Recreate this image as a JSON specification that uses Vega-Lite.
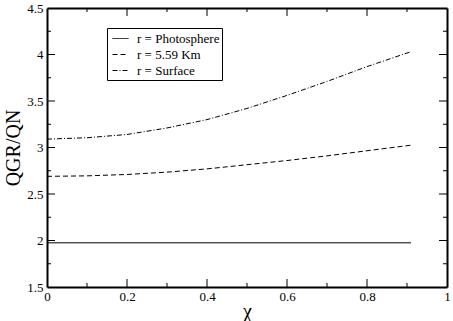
{
  "$schema": "https://vega.github.io/schema/vega-lite/v6.json",
  "width": 400,
  "height": 279,
  "autosize": "none",
  "padding": {"left": 47, "top": 8, "right": 6, "bottom": 34},
  "background": "white",
  "config": {
    "font": "Liberation Serif",
    "view": {"stroke": null},
    "rule": {"color": "black", "strokeWidth": 1},
    "axis": {
      "grid": false,
      "domainColor": "black",
      "domainWidth": 2,
      "labelColor": "black",
      "labelFont": "Liberation Serif",
      "labelFontSize": 13,
      "labelFlush": false,
      "labelOverlap": false,
      "titleFont": "Liberation Serif",
      "titleFontWeight": "normal",
      "titleColor": "black",
      "titleFontSize": 20
    }
  },
  "datasets": {
    "ticks": [
      {"side": "x", "kind": "major", "v": 0.2},
      {"side": "x", "kind": "major", "v": 0.4},
      {"side": "x", "kind": "major", "v": 0.6},
      {"side": "x", "kind": "major", "v": 0.8},
      {"side": "x", "kind": "minor", "v": 0.1},
      {"side": "x", "kind": "minor", "v": 0.3},
      {"side": "x", "kind": "minor", "v": 0.5},
      {"side": "x", "kind": "minor", "v": 0.7},
      {"side": "x", "kind": "minor", "v": 0.9},
      {"side": "y", "kind": "major", "v": 2},
      {"side": "y", "kind": "major", "v": 2.5},
      {"side": "y", "kind": "major", "v": 3},
      {"side": "y", "kind": "major", "v": 3.5},
      {"side": "y", "kind": "major", "v": 4},
      {"side": "y", "kind": "minor", "v": 1.75},
      {"side": "y", "kind": "minor", "v": 2.25},
      {"side": "y", "kind": "minor", "v": 2.75},
      {"side": "y", "kind": "minor", "v": 3.25},
      {"side": "y", "kind": "minor", "v": 3.75},
      {"side": "y", "kind": "minor", "v": 4.25}
    ]
  },
  "data": {
    "values": [
      {"series": "r = Photosphere", "chi": 0.0, "q": 1.975},
      {"series": "r = Photosphere", "chi": 0.3, "q": 1.975},
      {"series": "r = Photosphere", "chi": 0.6, "q": 1.975},
      {"series": "r = Photosphere", "chi": 0.91, "q": 1.975},
      {"series": "r = 5.59 Km", "chi": 0.0, "q": 2.69},
      {"series": "r = 5.59 Km", "chi": 0.1, "q": 2.695},
      {"series": "r = 5.59 Km", "chi": 0.2, "q": 2.71},
      {"series": "r = 5.59 Km", "chi": 0.3, "q": 2.735},
      {"series": "r = 5.59 Km", "chi": 0.4, "q": 2.77},
      {"series": "r = 5.59 Km", "chi": 0.5, "q": 2.815},
      {"series": "r = 5.59 Km", "chi": 0.6, "q": 2.86},
      {"series": "r = 5.59 Km", "chi": 0.7, "q": 2.91},
      {"series": "r = 5.59 Km", "chi": 0.8, "q": 2.965},
      {"series": "r = 5.59 Km", "chi": 0.91, "q": 3.025},
      {"series": "r = Surface", "chi": 0.0, "q": 3.09},
      {"series": "r = Surface", "chi": 0.1, "q": 3.105},
      {"series": "r = Surface", "chi": 0.2, "q": 3.14},
      {"series": "r = Surface", "chi": 0.3, "q": 3.21},
      {"series": "r = Surface", "chi": 0.4, "q": 3.3},
      {"series": "r = Surface", "chi": 0.5, "q": 3.42},
      {"series": "r = Surface", "chi": 0.6, "q": 3.56},
      {"series": "r = Surface", "chi": 0.7, "q": 3.71},
      {"series": "r = Surface", "chi": 0.8, "q": 3.87},
      {"series": "r = Surface", "chi": 0.91, "q": 4.03}
    ]
  },
  "layer": [
    {
      "mark": {"type": "line", "color": "black", "strokeWidth": 1},
      "encoding": {
        "x": {
          "field": "chi", "type": "quantitative",
          "scale": {"domain": [0, 1], "nice": false, "zero": false},
          "axis": {
            "orient": "bottom",
            "values": [0, 0.2, 0.4, 0.6, 0.8, 1],
            "format": "",
            "ticks": false,
            "tickSize": 0,
            "labelPadding": 3,
            "title": "χ",
            "titlePadding": -2
          }
        },
        "y": {
          "field": "q", "type": "quantitative",
          "scale": {"domain": [1.5, 4.5], "nice": false, "zero": false},
          "axis": {
            "orient": "left",
            "values": [1.5, 2, 2.5, 3, 3.5, 4, 4.5],
            "format": "",
            "ticks": false,
            "tickSize": 0,
            "labelPadding": 4,
            "title": "QGR/QN",
            "titlePadding": 3
          }
        },
        "strokeDash": {
          "field": "series", "type": "nominal",
          "scale": {
            "domain": ["r = Photosphere", "r = 5.59 Km", "r = Surface"],
            "range": [[1, 0], [5, 3], [5, 2, 1, 2]]
          },
          "legend": {
            "orient": "none",
            "legendX": 60,
            "legendY": 20,
            "title": null,
            "strokeColor": "black",
            "fillColor": "white",
            "padding": 2,
            "symbolType": "stroke",
            "symbolSize": 256,
            "symbolOffset": 3,
            "labelOffset": 8,
            "symbolStrokeWidth": 1,
            "symbolStrokeColor": "black",
            "labelFont": "Liberation Serif",
            "labelFontSize": 13,
            "labelColor": "black",
            "rowPadding": 0
          }
        }
      }
    },
    {
      "mark": {"type": "point", "opacity": 0},
      "encoding": {
        "x": {"field": "chi", "type": "quantitative", "axis": {"orient": "top", "values": [0, 1], "labels": false, "title": null, "ticks": false, "tickSize": 0}},
        "y": {"field": "q", "type": "quantitative", "axis": {"orient": "right", "values": [1.5, 4.5], "labels": false, "title": null, "ticks": false, "tickSize": 0}}
      }
    },
    {
      "data": {"name": "ticks"},
      "transform": [{"filter": "datum.side == 'x' && datum.kind == 'major'"}],
      "mark": "rule",
      "encoding": {
        "x": {"field": "v", "type": "quantitative", "axis": null},
        "y": {"datum": 1.5, "type": "quantitative", "axis": null},
        "y2": {"datum": 1.586}
      }
    },
    {
      "data": {"name": "ticks"},
      "transform": [{"filter": "datum.side == 'x' && datum.kind == 'minor'"}],
      "mark": "rule",
      "encoding": {
        "x": {"field": "v", "type": "quantitative", "axis": null},
        "y": {"datum": 1.5, "type": "quantitative", "axis": null},
        "y2": {"datum": 1.543}
      }
    },
    {
      "data": {"name": "ticks"},
      "transform": [{"filter": "datum.side == 'x' && datum.kind == 'major'"}],
      "mark": "rule",
      "encoding": {
        "x": {"field": "v", "type": "quantitative", "axis": null},
        "y": {"datum": 4.5, "type": "quantitative", "axis": null},
        "y2": {"datum": 4.414}
      }
    },
    {
      "data": {"name": "ticks"},
      "transform": [{"filter": "datum.side == 'x' && datum.kind == 'minor'"}],
      "mark": "rule",
      "encoding": {
        "x": {"field": "v", "type": "quantitative", "axis": null},
        "y": {"datum": 4.5, "type": "quantitative", "axis": null},
        "y2": {"datum": 4.457}
      }
    },
    {
      "data": {"name": "ticks"},
      "transform": [{"filter": "datum.side == 'y' && datum.kind == 'major'"}],
      "mark": "rule",
      "encoding": {
        "y": {"field": "v", "type": "quantitative", "axis": null},
        "x": {"datum": 0, "type": "quantitative", "axis": null},
        "x2": {"datum": 0.02}
      }
    },
    {
      "data": {"name": "ticks"},
      "transform": [{"filter": "datum.side == 'y' && datum.kind == 'minor'"}],
      "mark": "rule",
      "encoding": {
        "y": {"field": "v", "type": "quantitative", "axis": null},
        "x": {"datum": 0, "type": "quantitative", "axis": null},
        "x2": {"datum": 0.01}
      }
    },
    {
      "data": {"name": "ticks"},
      "transform": [{"filter": "datum.side == 'y' && datum.kind == 'major'"}],
      "mark": "rule",
      "encoding": {
        "y": {"field": "v", "type": "quantitative", "axis": null},
        "x": {"datum": 1, "type": "quantitative", "axis": null},
        "x2": {"datum": 0.98}
      }
    },
    {
      "data": {"name": "ticks"},
      "transform": [{"filter": "datum.side == 'y' && datum.kind == 'minor'"}],
      "mark": "rule",
      "encoding": {
        "y": {"field": "v", "type": "quantitative", "axis": null},
        "x": {"datum": 1, "type": "quantitative", "axis": null},
        "x2": {"datum": 0.99}
      }
    }
  ],
  "resolve": {"axis": {"x": "independent", "y": "independent"}}
}
